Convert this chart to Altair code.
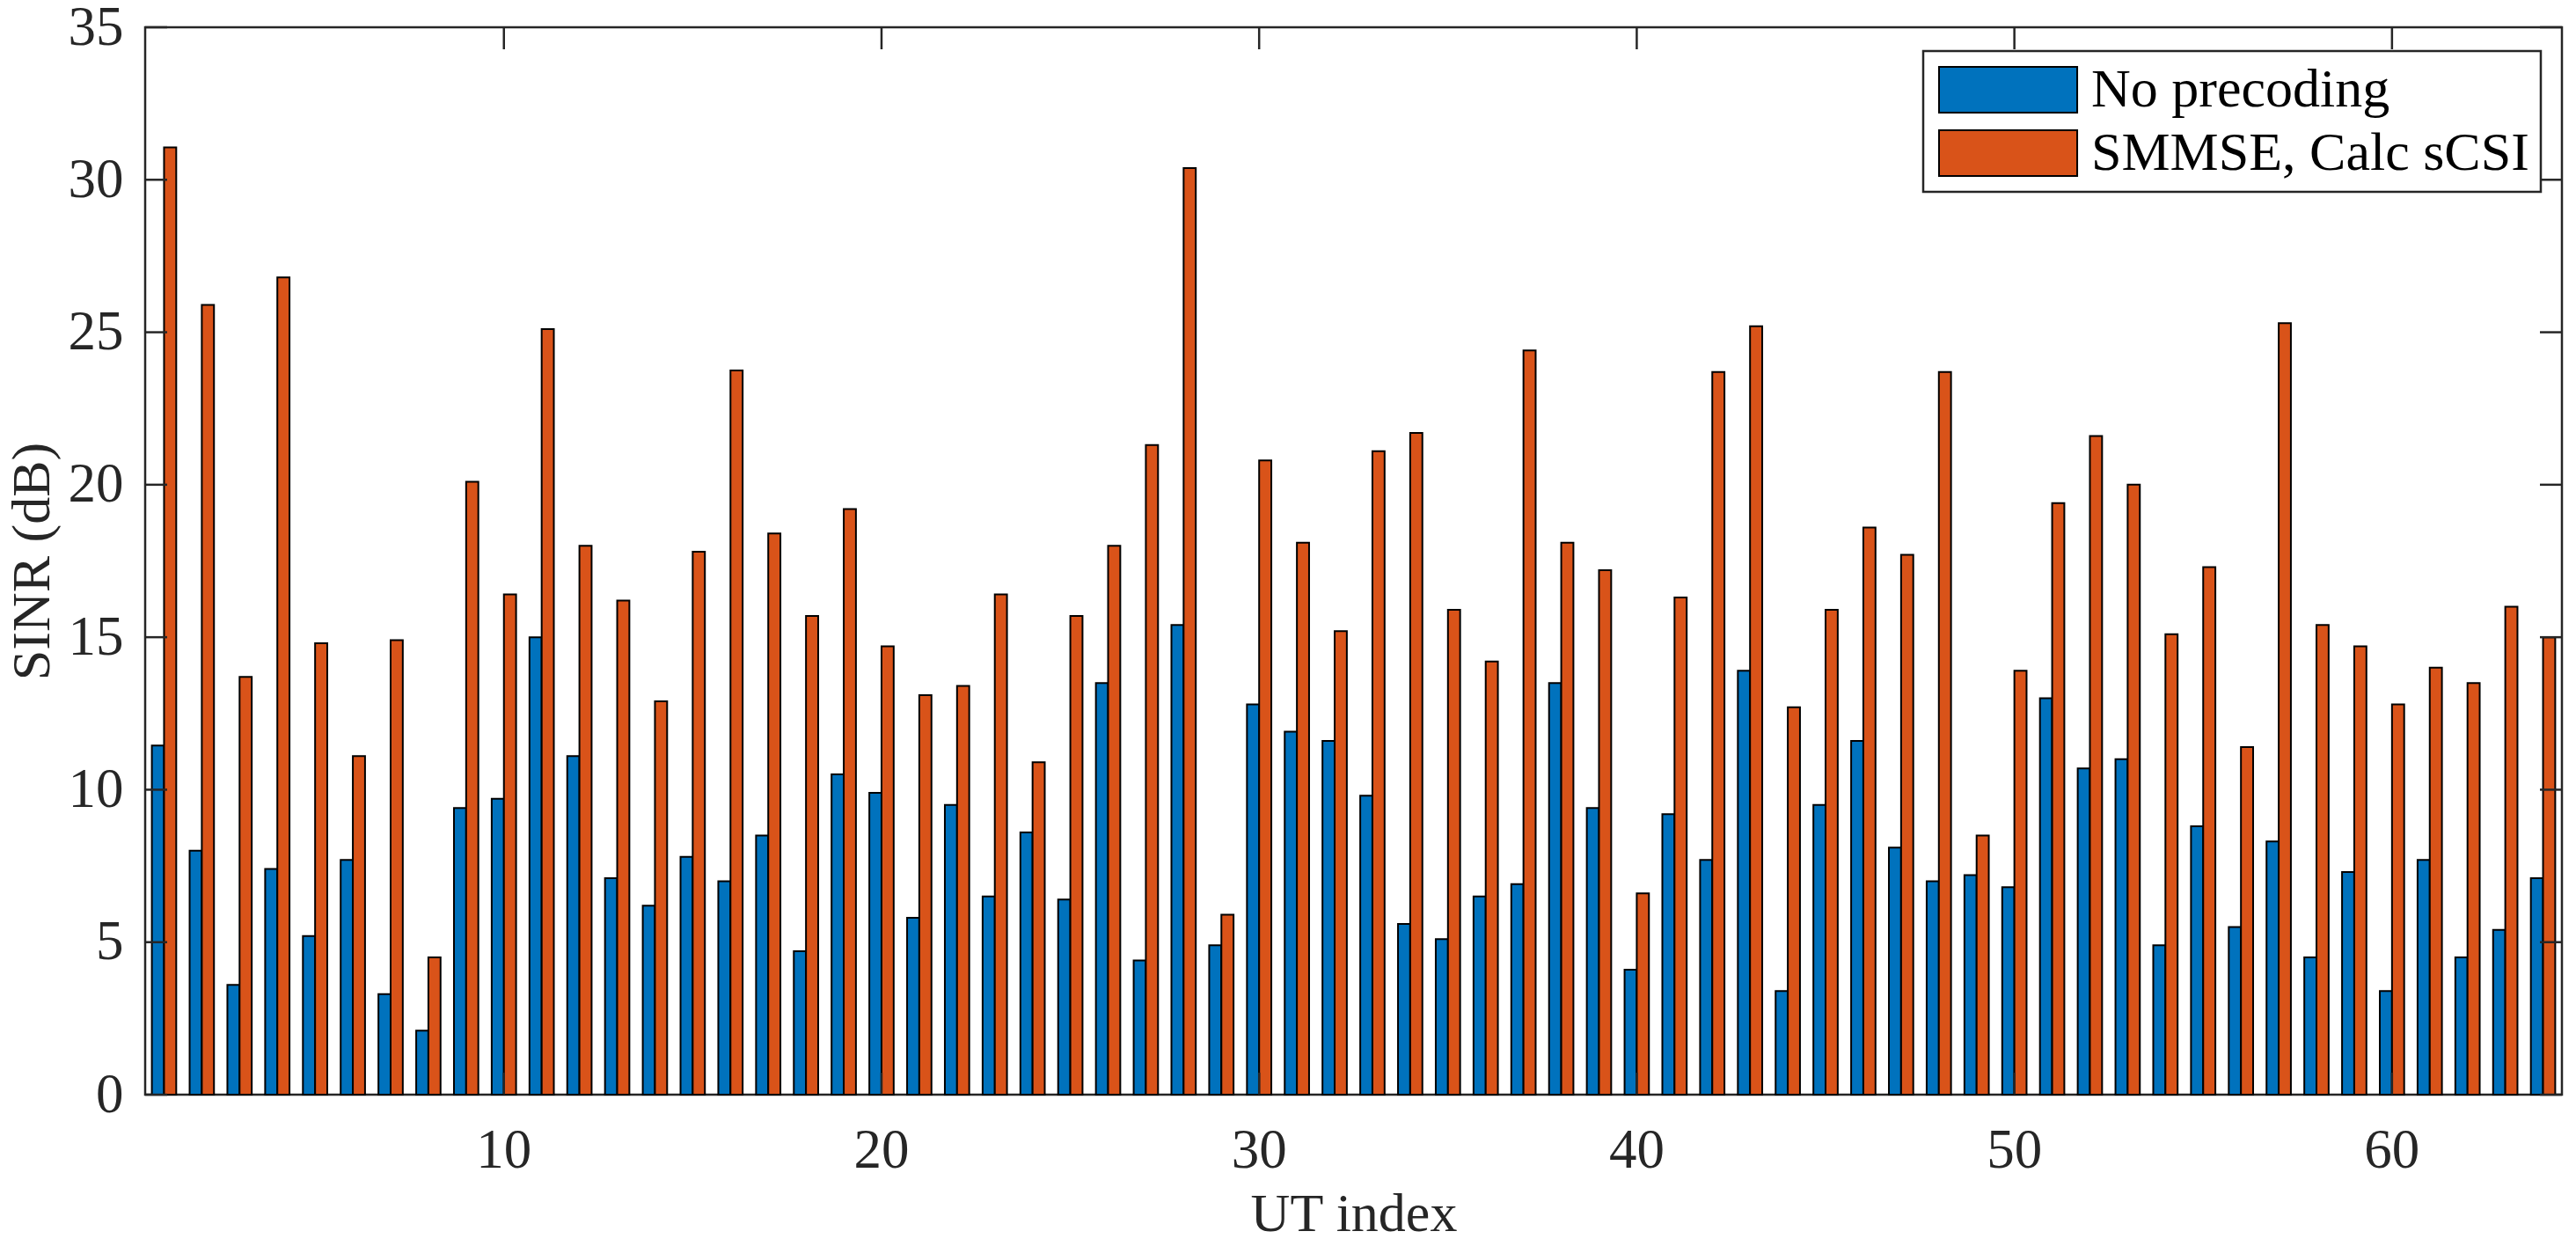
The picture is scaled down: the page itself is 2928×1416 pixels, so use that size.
import altair as alt
import pandas as pd

ut = list(range(1, 65))
no_precoding = [11.45, 8.0, 3.6, 7.4, 5.2, 7.7, 3.3, 2.1, 9.4, 9.7,
                15.0, 11.1, 7.1, 6.2, 7.8, 7.0, 8.5, 4.7, 10.5, 9.9,
                5.8, 9.5, 6.5, 8.6, 6.4, 13.5, 4.4, 15.4, 4.9, 12.8,
                11.9, 11.6, 9.8, 5.6, 5.1, 6.5, 6.9, 13.5, 9.4, 4.1,
                9.2, 7.7, 13.9, 3.4, 9.5, 11.6, 8.1, 7.0, 7.2, 6.8,
                13.0, 10.7, 11.0, 4.9, 8.8, 5.5, 8.3, 4.5, 7.3, 3.4,
                7.7, 4.5, 5.4, 7.1]
smmse = [31.06, 25.9, 13.7, 26.8, 14.8, 11.1, 14.9, 4.5, 20.1, 16.4,
         25.1, 18.0, 16.2, 12.9, 17.8, 23.75, 18.4, 15.7, 19.2, 14.7,
         13.1, 13.4, 16.4, 10.9, 15.7, 18.0, 21.3, 30.38, 5.9, 20.8,
         18.1, 15.2, 21.1, 21.7, 15.9, 14.2, 24.4, 18.1, 17.2, 6.6,
         16.3, 23.7, 25.2, 12.7, 15.9, 18.6, 17.7, 23.7, 8.5, 13.9,
         19.4, 21.6, 20.0, 15.1, 17.3, 11.4, 25.3, 15.4, 14.7, 12.8,
         14.0, 13.5, 16.0, 15.0]
series = ["No precoding", "SMMSE, Calc sCSI"]
colors = ["#0072BD", "#D95319"]
x_ticks = [10, 20, 30, 40, 50, 60]
y_ticks = [0, 5, 10, 15, 20, 25, 30, 35]

rows = []
for i, u in enumerate(ut):
    rows.append({"UT": u, "Series": series[0], "SINR": no_precoding[i]})
    rows.append({"UT": u, "Series": series[1], "SINR": smmse[i]})
df = pd.DataFrame(rows)
xt = pd.DataFrame({"UT": x_ticks})
yt = pd.DataFrame({"SINR": y_ticks})

W, H = 2747, 1213
TICK = 25
FONT = "Liberation Serif"
AX = "#262626"

xscale = alt.Scale(domain=ut, paddingInner=0, paddingOuter=0)
yscale = alt.Scale(domain=[0, 35], nice=False, zero=True)

bars = alt.Chart(df).mark_bar(stroke="black", strokeWidth=2).encode(
    x=alt.X("UT:O", scale=xscale, sort=ut,
            axis=alt.Axis(values=x_ticks, labelAngle=0, title="UT index",
                          ticks=False, domain=False, grid=False,
                          labelFont=FONT, labelFontSize=63, labelColor=AX,
                          labelPadding=32, titleFont=FONT, titleFontSize=62,
                          titleFontWeight="normal", titleColor=AX,
                          titleBaseline="alphabetic", titleY=154)),
    xOffset=alt.XOffset("Series:N", sort=series,
                        scale=alt.Scale(domain=series, paddingInner=0, paddingOuter=0.55)),
    y=alt.Y("SINR:Q", scale=yscale,
            axis=alt.Axis(values=y_ticks, title="SINR (dB)", ticks=False,
                          domain=False, grid=False, labelFont=FONT,
                          labelFontSize=63, labelColor=AX, labelPadding=25,
                          labelOverlap=False,
                          titleFont=FONT, titleFontSize=62,
                          titleFontWeight="normal", titleColor=AX,
                          titleBaseline="alphabetic", titleX=-110, titleY=H / 2)),
    color=alt.Color("Series:N", sort=series,
                    scale=alt.Scale(domain=series, range=colors),
                    legend=alt.Legend(orient="none", legendX=2021, legendY=27,
                                      title=None,
                                      symbolType="M-1,-1H5.04V1H-1Z",
                                      symbolSize=52 * 52,
                                      symbolStrokeColor="black",
                                      symbolStrokeWidth=2,
                                      labelFont=FONT, labelFontSize=62,
                                      labelColor="black", labelOffset=116,
                                      labelLimit=2000, padding=13,
                                      rowPadding=10, strokeColor=AX,
                                      fillColor="white")),
)

tick_style = dict(color=AX, strokeWidth=2.5)
bottom_ticks = alt.Chart(xt).mark_rule(**tick_style).encode(
    x=alt.X("UT:O", scale=xscale, sort=ut), y=alt.value(H), y2=alt.value(H - TICK))
top_ticks = alt.Chart(xt).mark_rule(**tick_style).encode(
    x=alt.X("UT:O", scale=xscale, sort=ut), y=alt.value(0), y2=alt.value(TICK))
left_ticks = alt.Chart(yt).mark_rule(**tick_style).encode(
    y=alt.Y("SINR:Q", scale=yscale), x=alt.value(0), x2=alt.value(TICK))
right_ticks = alt.Chart(yt).mark_rule(**tick_style).encode(
    y=alt.Y("SINR:Q", scale=yscale), x=alt.value(W - TICK), x2=alt.value(W))

chart = alt.layer(bars, bottom_ticks, top_ticks, left_ticks, right_ticks).properties(
    width=W, height=H,
    padding={"left": 157, "top": 23, "right": 8, "bottom": 163},
    autosize=alt.AutoSizeParams(type="none"),
    background="white",
).configure_view(stroke=AX, strokeWidth=2.5).configure_legend(strokeWidth=2.5)

chart.save("out.html", embed_options={"renderer": "svg", "actions": False})
